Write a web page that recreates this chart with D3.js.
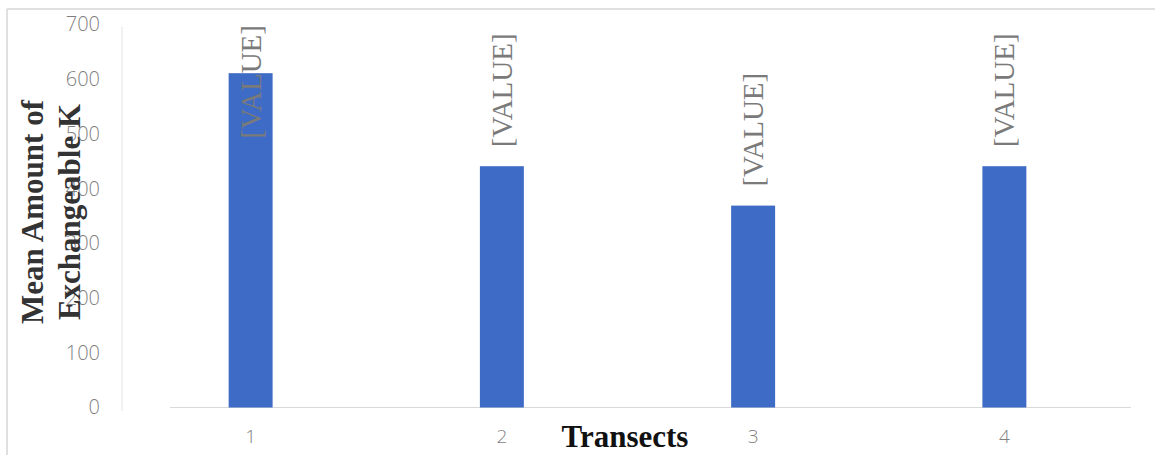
<!DOCTYPE html>
<html>
<head>
<meta charset="utf-8">
<script src="https://cdn.jsdelivr.net/npm/d3@7"></script>
<style>
  html, body { margin: 0; padding: 0; background: #ffffff; }
  svg { display: block; }
</style>
</head>
<body>
<div id="chart"></div>
<script>
// ---- data ----
const categories = ["1", "2", "3", "4"];
const values = [611, 441, 369, 441];
const dataLabels = ["[VALUE]", "[VALUE]", "[VALUE]", "[VALUE]"];
const yTicks = [0, 100, 200, 300, 400, 500, 600, 700];
const xTitle = "Transects";
const yTitleLines = ["Mean Amount of", "Exchangeable K"];

// ---- layout ----
const W = 1155, H = 455;
const svg = d3.select("#chart").append("svg").attr("width", W).attr("height", H);

svg.append("rect").attr("width", W).attr("height", H).attr("fill", "#ffffff");

// outer frame (top and left edges visible)
svg.append("line").attr("x1", 7).attr("x2", W).attr("y1", 9).attr("y2", 9)
  .attr("stroke", "#d6d6d6").attr("stroke-width", 1.5);
svg.append("line").attr("x1", 7).attr("x2", 7).attr("y1", 9).attr("y2", H)
  .attr("stroke", "#d6d6d6").attr("stroke-width", 1.5);

const y = d3.scaleLinear().domain([0, 700]).range([407.5, 24.5]);
const x = d3.scaleBand().domain(categories).range([125, 1130])
  .paddingInner(0.825).paddingOuter(0.4125);

// y axis light vertical line
svg.append("line").attr("x1", 122).attr("x2", 122).attr("y1", 27).attr("y2", 411)
  .attr("stroke", "#e2e2e2").attr("stroke-width", 1);

// y axis ticks
const yAxis = d3.axisLeft(y).tickValues(yTicks).tickSize(0).tickPadding(0);
const gy = svg.append("g").attr("transform", "translate(100,0)").call(yAxis);
gy.select(".domain").remove();
gy.selectAll("text")
  .attr("fill", "#7f7f7f")
  .style("font-family", "'Open Sans', 'Liberation Sans', sans-serif")
  .style("font-weight", "300")
  .style("font-size", "20px");

// baseline
svg.append("line").attr("x1", 170).attr("x2", 1131).attr("y1", y(0)).attr("y2", y(0))
  .attr("stroke", "#d9d9d9").attr("stroke-width", 1);

// bars
svg.append("g").selectAll("rect").data(values).join("rect")
  .attr("x", (d, i) => x(categories[i]))
  .attr("width", x.bandwidth())
  .attr("y", d => y(d))
  .attr("height", d => y(0) - y(d))
  .attr("fill", "#3d6bc5");

// x axis
const xAxis = d3.axisBottom(x).tickSize(0).tickPadding(0);
const gx = svg.append("g").attr("transform", "translate(0,443)").call(xAxis);
gx.select(".domain").remove();
gx.selectAll("text")
  .attr("dy", 0)
  .attr("fill", "#7f7f7f")
  .style("font-family", "'Open Sans', 'Liberation Sans', sans-serif")
  .style("font-weight", "300")
  .style("font-size", "19px");

// data labels (rotated)
const lblFont = "'Liberation Serif', 'Times New Roman', serif";
const labels = svg.append("g").selectAll("text").data(values).join("text")
  .text((d, i) => dataLabels[i])
  .attr("fill", "#7a7a7a")
  .style("font-family", lblFont)
  .style("font-size", "29px")
  .attr("text-anchor", "start");
labels.each(function(d, i) {
  const len = this.getComputedTextLength();
  let bottom = y(d) - 19;
  if (bottom - len < 25) bottom = 25 + len;
  const cx = x(categories[i]) + x.bandwidth() / 2 + 10;
  d3.select(this).attr("transform", `translate(${cx},${bottom}) rotate(-90)`);
});

// x title
svg.append("text")
  .text(xTitle)
  .attr("x", 625).attr("y", 447)
  .attr("text-anchor", "middle")
  .attr("fill", "#111111")
  .style("font-family", lblFont)
  .style("font-weight", "bold")
  .style("font-size", "31px");

// y title (two rotated lines)
const yt = svg.append("text")
  .attr("transform", "translate(43,212) rotate(-90)")
  .attr("text-anchor", "middle")
  .attr("fill", "#333333")
  .style("font-family", lblFont)
  .style("font-weight", "bold")
  .style("font-size", "31px");
yTitleLines.forEach((t, i) => {
  yt.append("tspan").attr("x", 0).attr("dy", i === 0 ? 0 : 37).text(t);
});
</script>
</body>
</html>
